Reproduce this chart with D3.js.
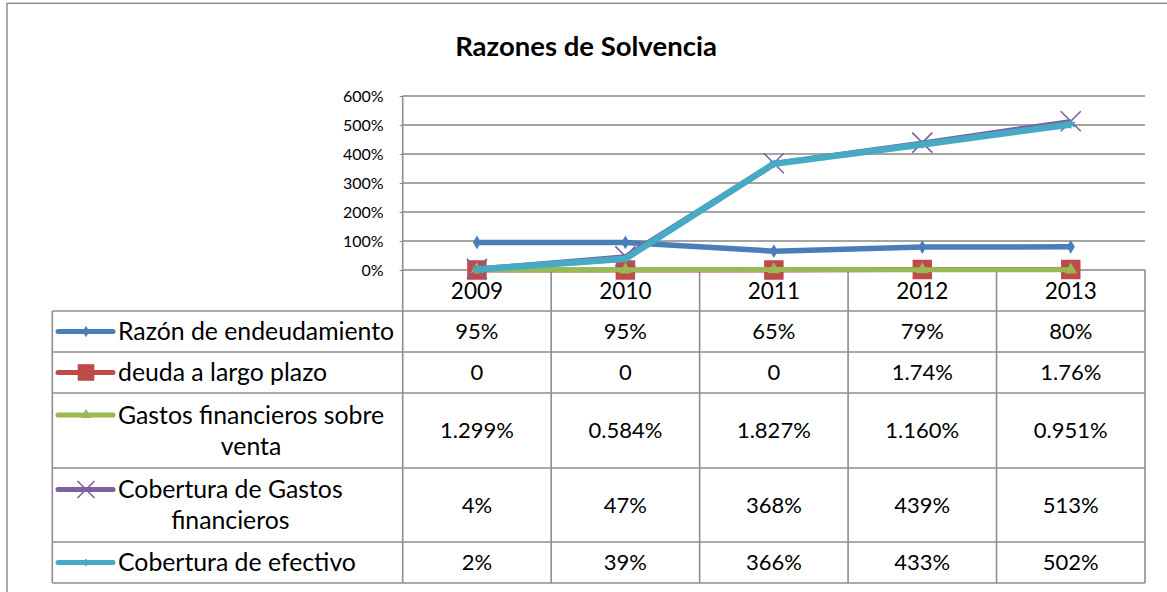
<!DOCTYPE html>
<meta charset="utf-8" />
<style>
  body {
    margin: 0px;
    padding: 0px;
    background: #fff;
  }
  svg {
    display: block;
    font-family: Lato, "Open Sans", sans-serif;
  }
  .grid line {
    stroke: #878787;
    stroke-width: 1.4px;
  }
  .table line {
    stroke: #8e8e8e;
    stroke-width: 1.6px;
  }
  .axis .domain {
    display: none;
  }
  .axis line {
    stroke: #878787;
  }
</style>

<svg width="1167" height="592"></svg>

<script src="https://d3js.org/d3.v7.min.js"></script>
<script>
  // chart data (percent)
  const years = ["2009", "2010", "2011", "2012", "2013"];
  const razonEndeudamiento = [95, 95, 65, 79, 80];
  const deudaLargoPlazo = [0, 0, 0, 1.74, 1.76];
  const gastosFinancieros = [1.299, 0.584, 1.827, 1.16, 0.951];
  const coberturaGastos = [4, 47, 368, 439, 513];
  const coberturaEfectivo = [2, 39, 366, 433, 502];
  const yTicks = [0, 100, 200, 300, 400, 500, 600];

  const pct0 = (v) => v + "%";
  const pctDeuda = (v) => (v === 0 ? "0" : v.toFixed(2) + "%");
  const pct3 = (v) => v.toFixed(3) + "%";

  const series = [
    { lines: ["Razón de endeudamiento"], values: razonEndeudamiento, color: "#4a7ebb", width: 5.5, marker: "diamond", fmt: pct0 },
    { lines: ["deuda a largo plazo"], values: deudaLargoPlazo, color: "#be4b48", width: 5, marker: "square", fmt: pctDeuda },
    { lines: ["Gastos financieros sobre", "venta"], values: gastosFinancieros, color: "#98b954", width: 5, marker: "triangle", fmt: pct3 },
    { lines: ["Cobertura de Gastos", "financieros"], values: coberturaGastos, color: "#7d60a0", width: 4.5, marker: "x", fmt: pct0 },
    { lines: ["Cobertura de efectivo"], values: coberturaEfectivo, color: "#46aac5", width: 6.5, marker: "star", fmt: pct0 },
  ];

  const svg = d3.select("svg");

  const plotLeft = 402.7,
    plotRight = 1145,
    plotTop = 96,
    plotBottom = 270;
  const tableLeft = 52.3;
  // row boundaries of the data table: header, then one per series
  const rowEdges = [270, 311, 352, 393, 468, 542, 583];

  const x = d3.scaleBand().domain(years).range([plotLeft, plotRight]);
  const cx = (d) => x(d) + x.bandwidth() / 2;
  const y = d3.scaleLinear().domain([0, 600]).range([plotBottom, plotTop]);

  // outer frame
  svg
    .append("rect")
    .attr("x", 7)
    .attr("y", 3.3)
    .attr("width", 1300)
    .attr("height", 800)
    .attr("fill", "none")
    .attr("stroke", "#888")
    .attr("stroke-width", 1.4);

  // title
  svg
    .append("text")
    .attr("x", 586)
    .attr("y", 56)
    .attr("text-anchor", "middle")
    .attr("font-size", 27.5)
    .attr("font-weight", "bold")
    .text("Razones de Solvencia");

  // gridlines
  svg
    .append("g")
    .attr("class", "grid")
    .selectAll("line")
    .data(yTicks)
    .enter()
    .append("line")
    .attr("x1", plotLeft)
    .attr("x2", plotRight)
    .attr("y1", (d) => y(d))
    .attr("y2", (d) => y(d));

  const yAxis = svg
    .append("g")
    .attr("class", "axis")
    .attr("transform", "translate(" + plotLeft + ",0)")
    .call(d3.axisLeft(y).tickValues(yTicks).tickFormat((d) => d + "%").tickSize(3).tickPadding(16));
  yAxis.selectAll("text").attr("font-size", 16).attr("fill", "#000").attr("font-family", "Lato, sans-serif");

  // table lines
  const table = svg.append("g").attr("class", "table");
  // vertical lines: plot left edge + category boundaries
  const colEdges = [plotLeft].concat(years.map((d) => x(d) + x.bandwidth()));
  table
    .selectAll("line.v")
    .data(colEdges)
    .enter()
    .append("line")
    .attr("x1", (d) => d)
    .attr("x2", (d) => d)
    .attr("y1", (d, i) => (i === 0 ? plotTop : plotBottom))
    .attr("y2", rowEdges[rowEdges.length - 1]);
  table
    .append("line")
    .attr("x1", tableLeft)
    .attr("x2", tableLeft)
    .attr("y1", rowEdges[1])
    .attr("y2", rowEdges[rowEdges.length - 1]);
  table
    .selectAll("line.h")
    .data(rowEdges.slice(1))
    .enter()
    .append("line")
    .attr("x1", tableLeft)
    .attr("x2", plotRight)
    .attr("y1", (d) => d)
    .attr("y2", (d) => d);

  // marker shapes
  function markerPath(type, s) {
    if (type === "diamond") return d3.symbol(d3.symbolDiamond, 55 * s * s)();
    if (type === "square") return d3.symbol(d3.symbolSquare, 380 * s * s)();
    if (type === "triangle") return d3.symbol(d3.symbolTriangle, 70 * s * s)();
    if (type === "x") {
      const r = 10 * s;
      return "M" + -r + "," + -r + "L" + r + "," + r + "M" + -r + "," + r + "L" + r + "," + -r;
    }
    const r = 4 * s;
    return "M0," + -r + "L0," + r + "M" + -r + "," + -r * 0.6 + "L" + r + "," + r * 0.6 + "M" + -r + "," + r * 0.6 + "L" + r + "," + -r * 0.6;
  }
  function drawMarker(g, s, type, color) {
    const stroke = type === "x" || type === "star";
    g.append("path")
      .attr("d", markerPath(type, s))
      .attr("fill", stroke ? "none" : color)
      .attr("stroke", color)
      .attr("stroke-width", stroke ? 1.6 : 0);
  }

  // series lines and markers
  const line = d3
    .line()
    .x((d, i) => cx(years[i]))
    .y((d) => y(d));
  series.forEach((s) => {
    const g = svg.append("g");
    g.append("path")
      .attr("d", line(s.values))
      .attr("fill", "none")
      .attr("stroke", s.color)
      .attr("stroke-width", s.width)
      .attr("stroke-linejoin", "round");
    s.values.forEach((v, i) => {
      const m = g.append("g").attr("transform", "translate(" + cx(years[i]) + "," + y(v) + ")");
      drawMarker(m, 1, s.marker, s.color);
    });
  });

  // header row: years
  svg
    .append("g")
    .selectAll("text")
    .data(years)
    .enter()
    .append("text")
    .attr("x", cx)
    .attr("y", (rowEdges[0] + rowEdges[1]) / 2)
    .attr("dy", "0.36em")
    .attr("text-anchor", "middle")
    .attr("font-size", 22.5)
    .text((d) => d);

  // data rows: legend + values
  series.forEach((s, r) => {
    const top = rowEdges[r + 1],
      bottom = rowEdges[r + 2];
    const mid = (top + bottom) / 2;
    const lh = 31;
    const firstY = mid - ((s.lines.length - 1) * lh) / 2;

    const lg = svg.append("g");
    lg.append("line")
      .attr("x1", 58)
      .attr("x2", 113)
      .attr("y1", firstY)
      .attr("y2", firstY)
      .attr("stroke", s.color)
      .attr("stroke-width", 5)
      .attr("stroke-linecap", "round");
    drawMarker(lg.append("g").attr("transform", "translate(86," + firstY + ")"), 0.85, s.marker, s.color);

    const t1 = lg
      .append("text")
      .attr("x", 118)
      .attr("y", firstY)
      .attr("dy", "0.36em")
      .attr("font-size", 24.8)
      .text(s.lines[0]);
    if (s.lines.length > 1) {
      const w = t1.node().getComputedTextLength();
      lg.append("text")
        .attr("x", 118 + w / 2)
        .attr("y", firstY + lh)
        .attr("dy", "0.36em")
        .attr("text-anchor", "middle")
        .attr("font-size", 24.8)
        .text(s.lines[1]);
    }

    svg
      .append("g")
      .selectAll("text")
      .data(s.values)
      .enter()
      .append("text")
      .attr("x", (d, i) => cx(years[i]))
      .attr("y", mid)
      .attr("dy", "0.36em")
      .attr("text-anchor", "middle")
      .attr("font-size", 22)
      .text((d) => s.fmt(d));
  });
</script>
